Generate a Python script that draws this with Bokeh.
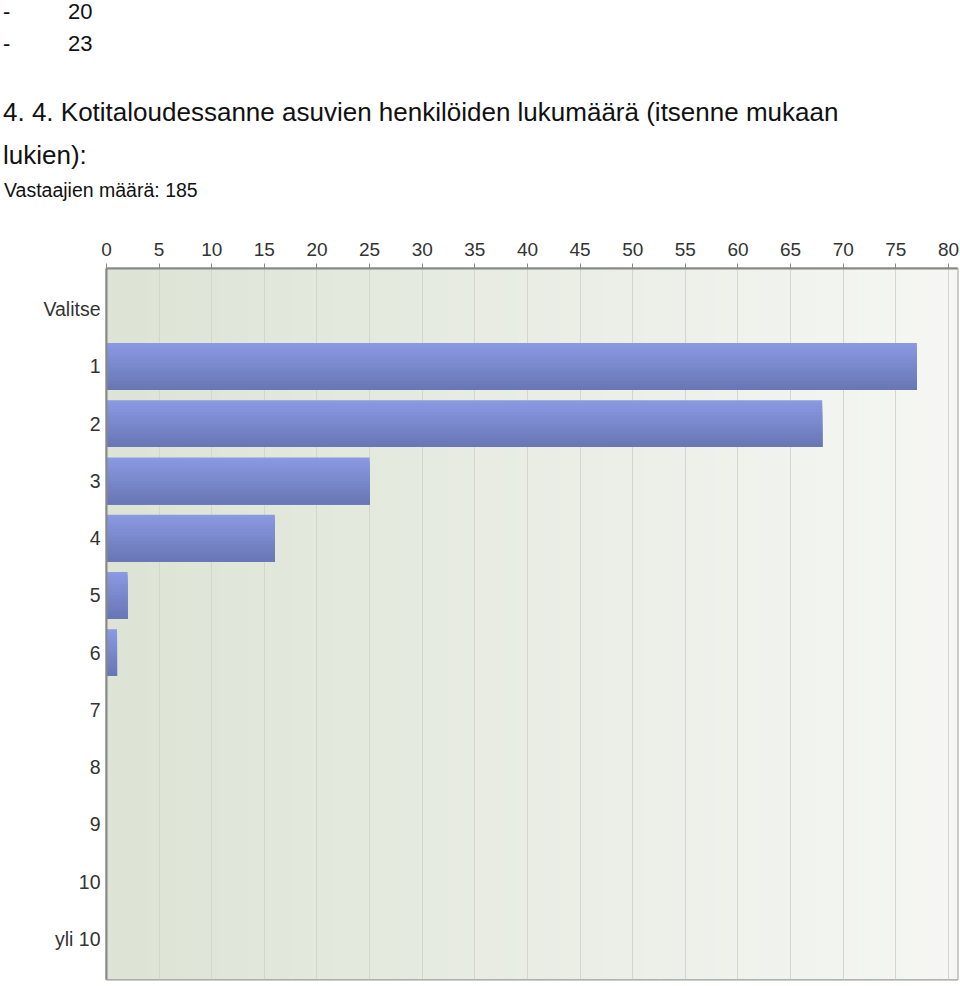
from bokeh.plotting import figure
from bokeh.models import Range1d, FixedTicker, ColumnDataSource, Div
from bokeh.layouts import column
from bokeh.transform import dodge
from bokeh.embed import file_html
from bokeh.resources import INLINE

categories = ["Valitse", "1", "2", "3", "4", "5", "6", "7", "8", "9", "10", "yli 10"]
counts = [0, 77, 68, 25, 16, 2, 1, 0, 0, 0, 0, 0]
x_ticks = list(range(0, 81, 5))
header_lines = [("-", "20"), ("-", "23")]
title_lines = ["4. 4. Kotitaloudessanne asuvien henkilöiden lukumäärä (itsenne mukaan",
               "lukien):"]
respondents = "Vastaajien määrä: 185"

W = 960
TOP_H = 222
FONT = "Liberation Sans"

# header texts
items = []
for i, (d, v) in enumerate(header_lines):
    t = 32 * i - 1
    items.append(f'<div style="position:absolute;left:3px;top:{t}px;font-size:22px;line-height:26px">{d}</div>')
    items.append(f'<div style="position:absolute;left:68px;top:{t}px;font-size:22px;line-height:26px">{v}</div>')
items.append(f'<div style="position:absolute;left:3px;top:97px;font-size:26px;line-height:30px;white-space:nowrap">{title_lines[0]}</div>')
items.append(f'<div style="position:absolute;left:3px;top:140px;font-size:26px;line-height:30px;white-space:nowrap">{title_lines[1]}</div>')
items.append(f'<div style="position:absolute;left:4px;top:178px;font-size:19.5px;line-height:24px;white-space:nowrap">{respondents}</div>')
html = (f'<div style="position:relative;width:{W}px;height:{TOP_H}px;'
        f'font-family:\'{FONT}\',Arial,sans-serif;color:#111111">' + "".join(items) + "</div>")
header = Div(text=html, width=W, height=TOP_H, margin=0)

p = figure(width=W, height=986 - TOP_H, output_backend="svg", toolbar_location=None,
           x_axis_location="above", margin=0,
           x_range=Range1d(0, 80.86), y_range=Range1d(11.71, -0.71),
           min_border_left=106, min_border_right=3, min_border_top=268 - TOP_H, min_border_bottom=7)
p.background_fill_color = "white"
p.border_fill_color = "white"
p.outline_line_color = "#9a9c98"
p.outline_line_width = 2

# background gradient (left greenish -> right near white)
n_bg = 60
xmax = 80.86
c0 = (0xdd, 0xe4, 0xd5)
c1 = (0xf6, 0xf7, 0xf4)
lefts, rights, cols = [], [], []
for i in range(n_bg):
    t = i / (n_bg - 1)
    lefts.append(xmax * i / n_bg)
    rights.append(xmax * (i + 1) / n_bg + 0.05)
    cols.append("#%02x%02x%02x" % tuple(int(c0[k] + (c1[k] - c0[k]) * t) for k in range(3)))
bg = p.quad(left=lefts, right=rights, bottom=-0.71, top=11.71, fill_color=cols, line_color=None)
bg.level = "image"

# bars with vertical gradient (nested strips, each reaching the bar bottom)
src = ColumnDataSource(dict(y=list(range(len(categories))), count=counts))
bar_h = 0.82
n_s = 16
top_c = (0x8a, 0x99, 0xe2)
bot_c = (0x6a, 0x77, 0xb6)
for k in range(n_s):
    t = k / (n_s - 1)
    col = "#%02x%02x%02x" % tuple(int(top_c[j] + (bot_c[j] - top_c[j]) * t) for j in range(3))
    top_off = -bar_h / 2 + bar_h * k / n_s
    bot_off = bar_h / 2
    p.hbar(y=dodge("y", (top_off + bot_off) / 2), left=0, right="count",
           height=bot_off - top_off, source=src, fill_color=col, line_color=None)

# axes
xa = p.xaxis[0]
xa.ticker = FixedTicker(ticks=x_ticks)
xa.minor_tick_line_color = None
xa.major_tick_out = 5
xa.major_tick_in = 0
xa.major_tick_line_color = "#888888"
xa.axis_line_color = "#888888"
xa.axis_line_width = 2
xa.major_label_text_font = FONT
xa.major_label_text_font_size = "19px"
xa.major_label_text_color = "#333333"
xa.major_label_standoff = 8

ya = p.yaxis[0]
ya.ticker = FixedTicker(ticks=list(range(len(categories))))
ya.major_label_overrides = {i: c for i, c in enumerate(categories)}
ya.minor_tick_line_color = None
ya.major_tick_out = 0
ya.major_tick_in = 0
ya.axis_line_color = "#888888"
ya.axis_line_width = 2
ya.major_label_text_font = FONT
ya.major_label_text_font_size = "19.5px"
ya.major_label_text_color = "#333333"
ya.major_label_standoff = 6

p.ygrid.grid_line_color = None
p.xgrid.ticker = FixedTicker(ticks=x_ticks)
p.xgrid.grid_line_color = "#d2d6ce"
p.xgrid.grid_line_width = 1

layout = column(header, p, spacing=0, margin=0)
open("out.html", "w").write(file_html(layout, INLINE))
